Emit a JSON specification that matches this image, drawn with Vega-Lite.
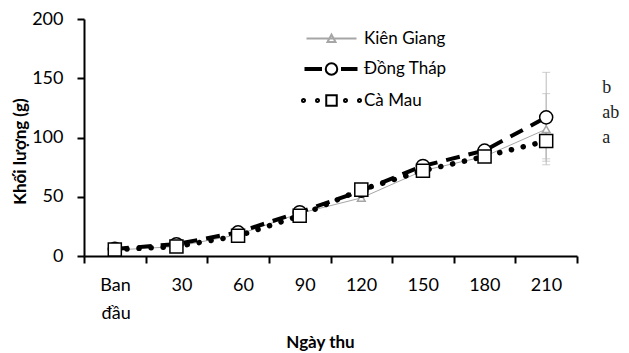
{
  "$schema": "https://vega.github.io/schema/vega-lite/v6.json",
  "width": 493,
  "height": 237,
  "autosize": "none",
  "padding": {"left": 84, "top": 19, "right": 52, "bottom": 97},
  "background": "white",
  "config": {
    "font": "Lato",
    "view": {"stroke": null},
    "axis": {"grid": false, "domainColor": "#000", "domainWidth": 2, "tickColor": "#000", "tickWidth": 2, "labelColor": "#000", "titleColor": "#000", "labelFont": "Lato", "titleFont": "Lato", "labelFontSize": 18, "titleFontSize": 17, "titleFontWeight": "bold"}
  },
  "datasets": {
    "weights": [
      {"day": "Ban đầu", "series": "Kiên Giang", "weight": 5},
      {"day": "30", "series": "Kiên Giang", "weight": 8},
      {"day": "60", "series": "Kiên Giang", "weight": 18},
      {"day": "90", "series": "Kiên Giang", "weight": 36},
      {"day": "120", "series": "Kiên Giang", "weight": 49},
      {"day": "150", "series": "Kiên Giang", "weight": 72},
      {"day": "180", "series": "Kiên Giang", "weight": 84},
      {"day": "210", "series": "Kiên Giang", "weight": 107},
      {"day": "Ban đầu", "series": "Đồng Tháp", "weight": 6},
      {"day": "30", "series": "Đồng Tháp", "weight": 10},
      {"day": "60", "series": "Đồng Tháp", "weight": 20},
      {"day": "90", "series": "Đồng Tháp", "weight": 37},
      {"day": "120", "series": "Đồng Tháp", "weight": 55},
      {"day": "150", "series": "Đồng Tháp", "weight": 76},
      {"day": "180", "series": "Đồng Tháp", "weight": 89},
      {"day": "210", "series": "Đồng Tháp", "weight": 117},
      {"day": "Ban đầu", "series": "Cà Mau", "weight": 5.5},
      {"day": "30", "series": "Cà Mau", "weight": 8},
      {"day": "60", "series": "Cà Mau", "weight": 17},
      {"day": "90", "series": "Cà Mau", "weight": 34},
      {"day": "120", "series": "Cà Mau", "weight": 56},
      {"day": "150", "series": "Cà Mau", "weight": 72},
      {"day": "180", "series": "Cà Mau", "weight": 84},
      {"day": "210", "series": "Cà Mau", "weight": 97}
    ],
    "errors": [
      {"day": "210", "series": "Kiên Giang", "lo": 77, "hi": 137},
      {"day": "210", "series": "Đồng Tháp", "lo": 80, "hi": 155},
      {"day": "210", "series": "Cà Mau", "lo": 82, "hi": 112}
    ],
    "letters": [
      {"day": "210", "label": "b", "v": 142},
      {"day": "210", "label": "ab", "v": 121},
      {"day": "210", "label": "a", "v": 100}
    ]
  },
  "resolve": {"scale": {"shape": "independent", "stroke": "independent"}, "legend": {"shape": "independent", "stroke": "independent"}},
  "layer": [
    {
      "data": {"name": "errors"},
      "mark": {"type": "rule", "color": "#bbbbbb", "strokeWidth": 1},
      "encoding": {
        "x": {"field": "day", "type": "ordinal"},
        "y": {"field": "lo", "type": "quantitative"},
        "y2": {"field": "hi"}
      }
    },
    {
      "data": {"name": "errors"},
      "mark": {"type": "tick", "color": "#bbbbbb", "thickness": 1, "size": 8, "orient": "horizontal"},
      "encoding": {
        "x": {"field": "day", "type": "ordinal"},
        "y": {"field": "hi", "type": "quantitative"}
      }
    },
    {
      "data": {"name": "errors"},
      "mark": {"type": "tick", "color": "#bbbbbb", "thickness": 1, "size": 8, "orient": "horizontal"},
      "encoding": {
        "x": {"field": "day", "type": "ordinal"},
        "y": {"field": "lo", "type": "quantitative"}
      }
    },
    {
      "data": {"name": "weights"},
      "transform": [{"filter": "datum.series === 'Kiên Giang'"}],
      "mark": {"type": "line", "color": "#a6a6a6", "strokeWidth": 1},
      "encoding": {
        "x": {"field": "day", "type": "ordinal"},
        "y": {"field": "weight", "type": "quantitative"}
      }
    },
    {
      "data": {"name": "weights"},
      "transform": [{"filter": "datum.series === 'Đồng Tháp'"}],
      "mark": {"type": "line", "color": "#000", "strokeWidth": 4, "strokeDash": [14, 9]},
      "encoding": {
        "x": {"field": "day", "type": "ordinal"},
        "y": {"field": "weight", "type": "quantitative"}
      }
    },
    {
      "data": {"name": "weights"},
      "transform": [{"filter": "datum.series === 'Cà Mau'"}],
      "mark": {"type": "line", "color": "#000", "strokeWidth": 5.5, "strokeDash": [0.1, 12], "strokeCap": "round"},
      "encoding": {
        "x": {"field": "day", "type": "ordinal"},
        "y": {"field": "weight", "type": "quantitative"}
      }
    },
    {
      "data": {"name": "weights"},
      "mark": {"type": "point", "filled": false, "fill": "white", "fillOpacity": 1, "opacity": 1, "strokeWidth": 1.5},
      "encoding": {
        "x": {
          "field": "day", "type": "ordinal",
          "scale": {"domain": ["Ban đầu", "30", "60", "90", "120", "150", "180", "210"], "paddingInner": 0, "paddingOuter": 0},
          "axis": {"title": "Ngày thu", "labelAngle": 0, "tickBand": "extent", "tickSize": 7, "labelOffset": 15.4, "labelPadding": 22, "labelLineHeight": 28, "labelBaseline": "middle", "labelExpr": "datum.value === 'Ban đầu' ? ['Ban', 'đầu'] : datum.value", "titleBaseline": "middle", "titleX": 236, "titleY": 86}
        },
        "y": {
          "field": "weight", "type": "quantitative",
          "scale": {"domain": [0, 200]},
          "axis": {"title": "Khối lượng (g)", "values": [0, 50, 100, 150, 200], "tickSize": 7, "labelPadding": 14, "titleBaseline": "middle", "titleX": -64, "titleY": 132}
        },
        "shape": {
          "field": "series", "type": "nominal",
          "scale": {"domain": ["Kiên Giang", "Đồng Tháp", "Cà Mau"], "range": ["triangle-up", "circle", "square"]},
          "legend": null
        },
        "stroke": {
          "condition": {"test": "datum.series === 'Kiên Giang'", "value": "#a6a6a6"},
          "value": "#000000"
        },
        "size": {
          "condition": {"test": "datum.series === 'Kiên Giang'", "value": 60},
          "value": 170
        }
      }
    },
    {
      "data": {"name": "weights"},
      "mark": {"type": "point", "filled": false, "opacity": 0, "strokeWidth": 2},
      "encoding": {
        "x": {"field": "day", "type": "ordinal"},
        "y": {"field": "weight", "type": "quantitative"},
        "shape": {
          "field": "series", "type": "nominal",
          "scale": {"domain": ["Kiên Giang", "Đồng Tháp", "Cà Mau"], "range": ["M-5,0H5M-0.8,0.7L0,-0.8L0.8,0.7Z", "M-5.2,-0.2H-2.1V0.2H-5.2ZM2.1,-0.2H5V0.2H2.1ZM1.15,0A1.15,1.15 0 1,1 -1.15,0A1.15,1.15 0 1,1 1.15,0Z", "M-1.05,-1.05H1.05V1.05H-1.05ZM-5.3,0A0.3,0.3 0 1,1 -5.9,0A0.3,0.3 0 1,1 -5.3,0ZM-2.5,0A0.3,0.3 0 1,1 -3.1,0A0.3,0.3 0 1,1 -2.5,0ZM3.1,0A0.3,0.3 0 1,1 2.5,0A0.3,0.3 0 1,1 3.1,0ZM5.9,0A0.3,0.3 0 1,1 5.3,0A0.3,0.3 0 1,1 5.9,0Z"]},
          "legend": {
            "title": null, "orient": "none", "legendX": 239, "legendY": 11,
            "symbolSize": 100, "symbolStrokeWidth": 2, "symbolOpacity": 1, "symbolFillColor": "transparent",
            "labelOffset": 24, "rowPadding": 11.5,
            "labelFont": "Lato", "labelFontSize": 17, "labelColor": "#000", "labelLimit": 300
          }
        },
        "stroke": {
          "field": "series", "type": "nominal",
          "scale": {"domain": ["Kiên Giang", "Đồng Tháp", "Cà Mau"], "range": ["#a6a6a6", "#000000", "#000000"]},
          "legend": {
            "title": null, "orient": "none", "legendX": 239, "legendY": 11,
            "symbolSize": 100, "symbolStrokeWidth": 2, "symbolOpacity": 1, "symbolFillColor": "transparent",
            "labelOffset": 24, "rowPadding": 11.5,
            "labelFont": "Lato", "labelFontSize": 17, "labelColor": "#000", "labelLimit": 300
          }
        }
      }
    },
    {
      "data": {"name": "letters"},
      "mark": {"type": "text", "align": "left", "baseline": "middle", "dx": 56, "font": "Liberation Serif", "fontSize": 18, "color": "#222"},
      "encoding": {
        "x": {"field": "day", "type": "ordinal"},
        "y": {"field": "v", "type": "quantitative"},
        "text": {"field": "label"}
      }
    }
  ]
}
